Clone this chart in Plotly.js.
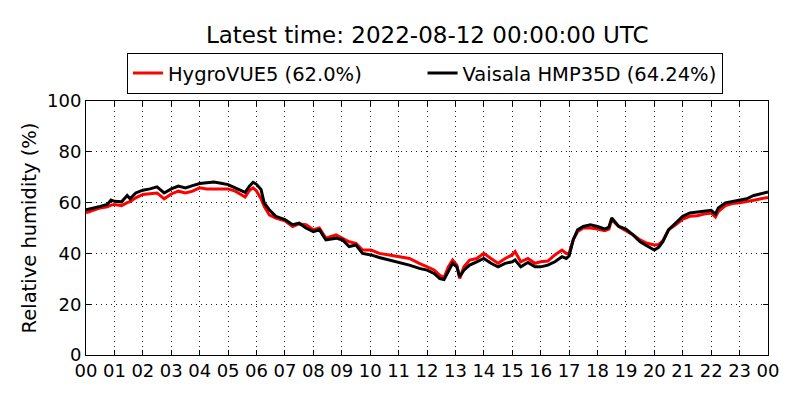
<!DOCTYPE html>
<html>
<head>
<meta charset="utf-8">
<script src="https://cdn.plot.ly/plotly-3.0.1.min.js"></script>
<style>
  html, body { margin: 0; padding: 0; background: #fff; }
  #chart { width: 800px; height: 400px; }
</style>
</head>
<body>
<div id="chart"></div>
<script>
// hours since 00 UTC
const hours = [0, 0.25, 0.5, 0.75, 0.88, 1.0, 1.25, 1.45, 1.55, 1.75, 2.0, 2.25, 2.5, 2.75, 3.0, 3.25, 3.5, 3.75,
  4.0, 4.25, 4.5, 4.75, 5.0, 5.25, 5.5, 5.6, 5.75, 5.88, 6.0, 6.16, 6.27, 6.45, 6.68, 7.0, 7.27, 7.5, 7.74,
  8.0, 8.21, 8.44, 8.8, 9.03, 9.26, 9.5, 9.73, 10.03, 10.32, 10.67, 11.02, 11.38, 11.73, 12.0, 12.25, 12.45,
  12.6, 12.75, 12.9, 13.05, 13.15, 13.3, 13.5, 13.75, 14.0, 14.25, 14.5, 14.75, 15.0, 15.1, 15.3, 15.55, 15.8,
  16.0, 16.25, 16.5, 16.75, 16.9, 17.0, 17.15, 17.3, 17.5, 17.75, 18.0, 18.25, 18.4, 18.5, 18.75, 19.0, 19.25,
  19.5, 19.75, 20.0, 20.15, 20.3, 20.5, 20.75, 21.0, 21.25, 21.5, 21.75, 22.0, 22.15, 22.25, 22.5, 22.75, 23.0,
  23.25, 23.5, 23.75, 24.0];

const hygrovue = [56.0, 57.0, 57.9, 58.3, 59.0, 59.2, 58.8, 60.0, 60.4, 61.9, 63.2, 63.5, 63.8, 61.5, 63.4, 64.5, 63.8, 64.5,
  65.8, 65.4, 65.4, 65.4, 65.4, 64.5, 62.8, 62.2, 64.8, 65.8, 64.6, 61.5, 58.5, 55.2, 53.9, 52.8, 50.6, 51.6, 51.3,
  49.3, 50.0, 46.0, 47.3, 46.0, 44.6, 44.0, 41.3, 41.3, 40.0, 39.4, 38.7, 38.0, 36.1, 34.7, 33.5, 31.4,
  30.5, 34.7, 37.4, 35.4, 30.1, 34.7, 37.4, 38.0, 40.0, 38.0, 36.1, 38.0, 39.4, 40.7, 36.7, 38.0, 36.1,
  36.7, 37.0, 39.4, 41.3, 40.0, 40.0, 45.5, 48.6, 50.0, 50.0, 49.6, 48.9, 49.6, 53.3, 50.6, 49.0, 47.3,
  45.3, 44.0, 43.3, 43.5, 45.0, 49.3, 51.3, 53.5, 54.6, 54.8, 55.5, 55.9, 54.3, 56.5, 58.8, 59.6, 59.9,
  60.3, 60.9, 61.5, 62.0];

const hmp35d = [57.2, 57.8, 58.5, 59.3, 61.0, 60.5, 60.3, 62.8, 61.5, 63.8, 64.9, 65.4, 66.2, 63.8, 65.4, 66.5, 65.8, 66.7,
  67.5, 67.8, 68.1, 67.6, 67.1, 65.8, 64.5, 64.0, 66.5, 68.0, 67.2, 65.2, 59.9, 57.2, 54.6, 53.3, 51.3, 51.9, 50.0,
  48.6, 49.3, 45.3, 46.0, 45.3, 42.7, 43.3, 40.0, 39.4, 38.4, 37.4, 36.7, 35.4, 34.1, 33.4, 32.1, 30.1,
  29.7, 32.7, 36.1, 34.7, 30.8, 33.4, 35.4, 36.7, 38.0, 36.1, 34.7, 36.1, 36.7, 37.4, 34.7, 36.4, 34.7,
  34.7, 35.4, 36.7, 38.7, 38.0, 39.0, 45.5, 49.3, 50.6, 51.3, 50.6, 49.6, 50.3, 53.9, 50.6, 49.6, 47.3,
  44.6, 42.9, 41.3, 42.4, 44.6, 49.3, 51.9, 54.6, 55.9, 56.2, 56.5, 57.0, 55.5, 57.9, 59.9, 60.5, 60.9,
  61.5, 62.8, 63.6, 64.2];

const tickHours = [];
const tickLabels = [];
for (let h = 0; h <= 24; h++) {
  tickHours.push(h);
  tickLabels.push(String(h % 24).padStart(2, '0'));
}

const font = 'DejaVu Sans, sans-serif';
// trailing spaces widen the first legend entry like the original
const pad = '&nbsp;'.repeat(9);

const traces = [
  {x: hours, y: hygrovue, name: 'HygroVUE5 (62.0%)' + pad, type: 'scatter', mode: 'lines',
   line: {color: '#ff0000', width: 3}},
  {x: hours, y: hmp35d, name: 'Vaisala HMP35D (64.24%)', type: 'scatter', mode: 'lines',
   line: {color: '#000000', width: 3}}
];

const axisCommon = {
  showline: true, linecolor: '#000', linewidth: 1, mirror: 'ticks',
  ticks: 'inside', ticklen: 5, tickcolor: '#000',
  showgrid: true, gridcolor: '#222', gridwidth: 1, griddash: '1px,4px',
  zeroline: false, tickfont: {family: font, size: 18, color: '#000'}
};

Plotly.newPlot('chart', traces, {
  width: 800, height: 400,
  margin: {l: 86, r: 32, t: 101, b: 45},
  paper_bgcolor: '#fff', plot_bgcolor: '#fff',
  title: {text: 'Latest time: 2022-08-12 00:00:00 UTC', font: {family: font, size: 23, color: '#000'},
          x: 0.534, xanchor: 'center', y: 0.912, yanchor: 'middle'},
  showlegend: true,
  legend: {orientation: 'h', x: 0.497, xanchor: 'center', y: 1.19, yanchor: 'top',
           bordercolor: '#000', borderwidth: 1, bgcolor: '#fff',
           font: {family: font, size: 19.5, color: '#000'}},
  xaxis: Object.assign({}, axisCommon, {range: [0, 24], tickvals: tickHours, ticktext: tickLabels,
    ticklabelstandoff: -1}),
  yaxis: Object.assign({}, axisCommon, {range: [0, 100], tickvals: [0, 20, 40, 60, 80, 100],
    title: {text: 'Relative humidity (%)', font: {family: font, size: 19.5, color: '#000'}, standoff: 5}})
}, {displayModeBar: false, staticPlot: true});
</script>
</body>
</html>
